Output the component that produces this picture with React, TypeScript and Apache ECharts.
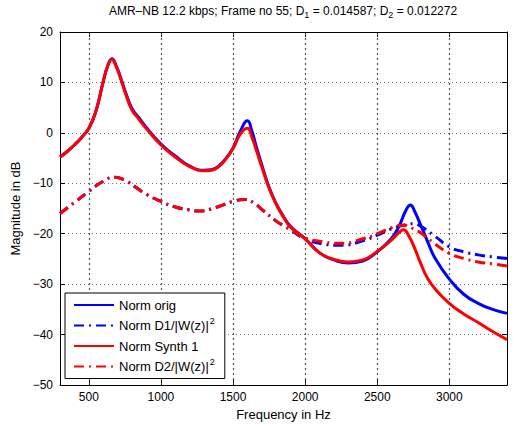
import React, { useEffect, useRef } from "react";
import * as echarts from "echarts";

const xTicks = [500, 1000, 1500, 2000, 2500, 3000];

const origFreq = [300, 350, 400, 450, 500, 550, 600, 630, 660, 690, 720, 760, 800, 850, 900, 1000, 1100, 1200, 1300, 1350, 1400, 1450, 1500, 1550, 1600, 1630, 1660, 1700, 1750, 1800, 1850, 1900, 2000, 2100, 2200, 2300, 2400, 2500, 2600, 2650, 2700, 2730, 2760, 2800, 2850, 2900, 3000, 3100, 3200, 3300, 3400];
const origDb = [-4.8, -3.7, -2.4, -0.9, 0.9, 4.4, 10.2, 13.2, 14.7, 13.3, 11.0, 7.6, 4.8, 2.9, 1.0, -2.2, -4.6, -6.6, -7.4, -7.3, -6.6, -5.1, -3.0, 0.3, 2.4, 0.4, -2.6, -6.4, -10.8, -14.1, -16.6, -18.6, -21.0, -23.8, -25.2, -25.8, -25.4, -23.6, -20.9, -18.6, -15.3, -14.3, -15.6, -18.2, -21.6, -24.8, -29.0, -32.0, -33.8, -35.0, -35.8];

const d1Freq = [300, 400, 500, 600, 680, 750, 820, 900, 1000, 1100, 1200, 1260, 1350, 1400, 1500, 1580, 1650, 1700, 1800, 1850, 1900, 2000, 2100, 2250, 2400, 2500, 2600, 2700, 2750, 2800, 2900, 3000, 3100, 3200, 3300, 3400];
const d1Db = [-16.0, -13.8, -11.6, -9.6, -8.8, -9.4, -10.7, -12.2, -13.6, -14.7, -15.3, -15.5, -15.1, -14.6, -13.6, -13.2, -14.0, -15.2, -17.5, -18.4, -19.3, -21.0, -21.9, -22.3, -21.4, -20.3, -19.0, -18.2, -18.0, -18.5, -20.5, -22.6, -23.6, -24.2, -24.6, -24.9];

const synthFreq = [300, 350, 400, 450, 500, 550, 600, 630, 660, 690, 720, 760, 800, 850, 900, 1000, 1100, 1200, 1300, 1350, 1400, 1450, 1500, 1550, 1600, 1630, 1660, 1700, 1750, 1800, 1850, 1900, 2000, 2100, 2200, 2300, 2400, 2500, 2600, 2650, 2682, 2720, 2760, 2800, 2850, 2900, 3000, 3100, 3200, 3300, 3400];
const synthDb = [-4.8, -3.7, -2.4, -0.9, 0.9, 4.4, 10.2, 13.2, 14.6, 13.1, 10.8, 7.3, 4.5, 2.6, 0.8, -2.4, -4.8, -6.7, -7.5, -7.4, -6.7, -5.2, -3.1, -0.3, 0.9, -0.8, -3.3, -6.8, -11.0, -14.2, -16.7, -18.7, -21.0, -23.8, -25.1, -25.6, -25.2, -23.5, -21.2, -19.8, -19.2, -20.5, -22.9, -25.8, -28.9, -30.9, -33.8, -35.9, -37.6, -39.4, -41.0];

const d2Freq = [300, 400, 500, 600, 680, 750, 820, 900, 1000, 1100, 1200, 1260, 1350, 1400, 1500, 1580, 1650, 1700, 1800, 1850, 1900, 2000, 2100, 2250, 2400, 2500, 2600, 2680, 2750, 2800, 2900, 3000, 3100, 3200, 3300, 3400];
const d2Db = [-16.0, -13.8, -11.6, -9.6, -8.8, -9.4, -10.7, -12.2, -13.6, -14.7, -15.3, -15.5, -15.1, -14.6, -13.6, -13.2, -14.0, -15.2, -17.5, -18.4, -19.2, -20.8, -21.5, -21.9, -21.0, -20.0, -18.8, -18.3, -19.0, -19.8, -22.0, -23.9, -24.9, -25.6, -26.0, -26.4];

const seriesNames = ["Norm orig", "Norm D1/|W(z)|^2", "Norm Synth 1", "Norm D2/|W(z)|^2"];

const zip = (xs: number[], ys: number[]) => xs.map((x, i) => [x, ys[i]]);

const FONT = "Liberation Sans, Arial, Helvetica, sans-serif";
const dashDot = [10, 5, 2, 5];
const gridStyle = { color: "#777", type: [1, 3], width: 1 };

export default function App() {
  const ref = useRef<HTMLDivElement>(null);
  useEffect(() => {
    if (!ref.current) return;
    const chart = echarts.init(ref.current, undefined, { renderer: "svg" });
    const tickLabelFmt = (v: number) => String(v).replace("-", "\u2212");
    const axisLineStyle = { color: "#000", width: 1 };
    const mkSeries = (name: string, data: number[][], color: string, dashed: boolean) => ({
      name,
      type: "line",
      data,
      symbol: "none",
      smooth: 0.5,
      z: 3,
      lineStyle: { color, width: 3, type: dashed ? dashDot : "solid", cap: "butt", join: "round" },
      itemStyle: { color },
      xAxisIndex: 0,
      yAxisIndex: 0,
    });
    chart.setOption({
      animation: false,
      backgroundColor: "#fff",
      textStyle: { fontFamily: FONT },
      title: {
        text: "AMR\u2013NB 12.2 kbps; Frame no 55; D{sub|1} = 0.014587; D{sub|2} = 0.012272",
        left: 283,
        textAlign: "center",
        top: 3,
        padding: 0,
        textStyle: {
          fontFamily: FONT,
          fontSize: 12,
          lineHeight: 16,
          fontWeight: "normal",
          color: "#000",
          rich: {
            sub: { fontSize: 9, lineHeight: 8, verticalAlign: "bottom", fontFamily: FONT, color: "#000" },
          },
        },
      },
      legend: {
        orient: "vertical",
        left: 65,
        top: 293,
        width: 158,
        padding: [3, 10, 3, 8],
        itemWidth: 40,
        itemHeight: 14,
        itemGap: 2.5,
        z: 10,
        backgroundColor: "#fff",
        borderColor: "#000",
        borderWidth: 1,
        borderRadius: 0,
        itemStyle: { opacity: 0 },
        data: seriesNames,
        formatter: (n: string) => n.replace("^2", "{sup|2}"),
        textStyle: {
          fontFamily: FONT,
          fontSize: 13,
          lineHeight: 18,
          color: "#000",
          rich: {
            sup: { fontSize: 9, lineHeight: 10, verticalAlign: "top", fontFamily: FONT, color: "#000", padding: [0, 0, 0, 1] },
          },
        },
      },
      grid: { left: 60, right: 10, top: 32, bottom: 43, containLabel: false },
      xAxis: [
        {
          type: "value",
          min: 300,
          max: 3400,
          name: "Frequency in Hz",
          nameLocation: "middle",
          nameGap: 17,
          nameTextStyle: { fontFamily: FONT, fontSize: 13, color: "#000" },
          axisLine: { show: true, onZero: false, lineStyle: axisLineStyle },
          axisTick: { show: true, inside: true, length: 5, customValues: xTicks, lineStyle: axisLineStyle },
          axisLabel: { show: true, customValues: xTicks, formatter: (v: number) => String(v), margin: 6, fontSize: 12, color: "#000", fontFamily: FONT },
          splitLine: { show: false },
        },
        {
          type: "value",
          position: "top",
          min: 300,
          max: 3400,
          axisLine: { show: true, onZero: false, lineStyle: axisLineStyle },
          axisTick: { show: true, inside: true, length: 5, customValues: xTicks, lineStyle: axisLineStyle },
          axisLabel: { show: false },
          splitLine: { show: false },
        },
      ],
      yAxis: [
        {
          type: "value",
          min: -50,
          max: 20,
          interval: 10,
          name: "Magnitude in dB",
          nameLocation: "middle",
          nameGap: 35,
          nameTextStyle: { fontFamily: FONT, fontSize: 13, color: "#000" },
          axisLine: { show: true, onZero: false, lineStyle: axisLineStyle },
          axisTick: { show: true, inside: true, length: 5, lineStyle: axisLineStyle },
          axisLabel: { formatter: tickLabelFmt, margin: 7, fontSize: 12, color: "#000", fontFamily: FONT },
          splitLine: { show: true, lineStyle: gridStyle },
        },
        {
          type: "value",
          position: "right",
          min: -50,
          max: 20,
          interval: 10,
          axisLine: { show: true, onZero: false, lineStyle: axisLineStyle },
          axisTick: { show: true, inside: true, length: 5, lineStyle: axisLineStyle },
          axisLabel: { show: false },
          splitLine: { show: false },
        },
      ],
      series: [
        mkSeries(seriesNames[0], zip(origFreq, origDb), "#0000ff", false),
        mkSeries(seriesNames[1], zip(d1Freq, d1Db), "#0000ff", true),
        mkSeries(seriesNames[2], zip(synthFreq, synthDb), "#ff0000", false),
        mkSeries(seriesNames[3], zip(d2Freq, d2Db), "#ff0000", true),
      ],
    });
    // vertical dotted grid lines at the x ticks, positioned through the axis scale
    const yTop = chart.convertToPixel({ yAxisIndex: 0 }, 20) as number;
    const yBot = chart.convertToPixel({ yAxisIndex: 0 }, -50) as number;
    const vLines = xTicks.map((v) => {
      const x = Math.round(chart.convertToPixel({ xAxisIndex: 0 }, v) as number) + 0.5;
      return {
        type: "line",
        silent: true,
        z: 1,
        shape: { x1: x, y1: yTop + 1, x2: x, y2: yBot - 1 },
        style: { stroke: "#555", lineWidth: 1.2, lineDash: [2, 3] },
      };
    });
    chart.setOption({ graphic: { elements: vLines } });
    return () => chart.dispose();
  }, []);
  return <div ref={ref} style={{ width: 517, height: 428, position: "absolute", left: 0, top: 0 }} />;
}
